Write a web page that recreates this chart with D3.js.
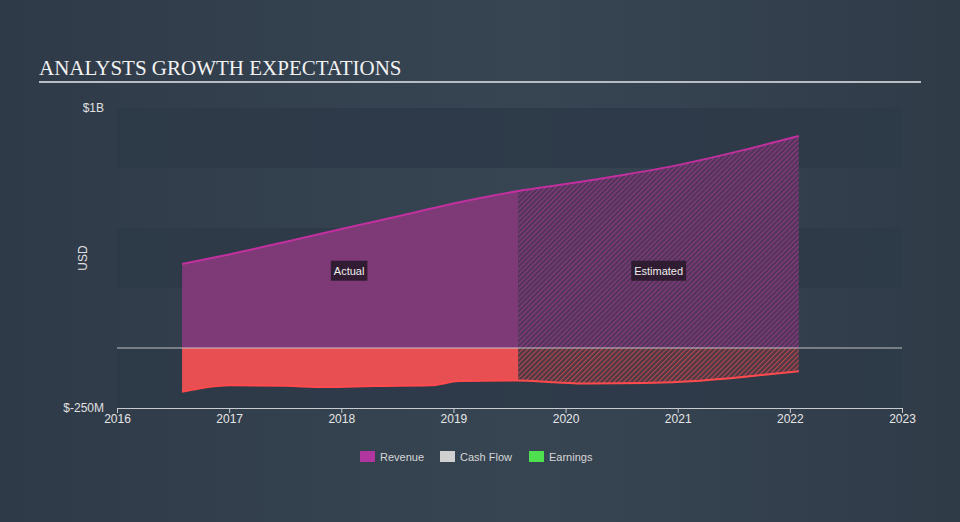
<!DOCTYPE html>
<html><head><meta charset="utf-8">
<script src="https://cdn.jsdelivr.net/npm/d3@7"></script>
<style>
html,body{margin:0;padding:0;background:#333f4d;}
svg{display:block;}
</style></head>
<body>
<svg id="chart" width="960" height="522"></svg>
<script>
const title = "ANALYSTS GROWTH EXPECTATIONS";
const yTickLabels = ["$1B", "$-250M"];
const yTickValues = [1.0, -0.25];
const xTickYears = [2016, 2017, 2018, 2019, 2020, 2021, 2022, 2023];
const splitYear = 2019.58;

// revenue, in billions USD
const revenueYears = [2016.58, 2017.0, 2017.5, 2018.0, 2018.5, 2019.0, 2019.58, 2020.0, 2020.5, 2021.0, 2021.5, 2022.08];
const revenueValues = [0.350, 0.390, 0.442, 0.496, 0.548, 0.602, 0.654, 0.683, 0.720, 0.762, 0.815, 0.883];

// earnings, in billions USD
const earningsYears = [2016.58, 2017.0, 2017.5, 2017.85, 2018.3, 2018.8, 2019.05, 2019.58, 2019.9, 2020.2, 2020.7, 2021.2, 2021.6, 2022.08];
const earningsValues = [-0.182, -0.155, -0.157, -0.163, -0.158, -0.155, -0.138, -0.135, -0.143, -0.148, -0.146, -0.136, -0.120, -0.097];

const legendItems = ["Revenue", "Cash Flow", "Earnings"];
const legendColors = ["#b2369f", "#d0d0d0", "#4fe04f"];

const svg = d3.select("#chart");
const W = 960, H = 522;
const defs = svg.append("defs");

const bg = defs.append("linearGradient").attr("id","bg").attr("x1","0").attr("x2","1").attr("y1","0").attr("y2","0");
bg.append("stop").attr("offset","0").attr("stop-color","#2f3a48");
bg.append("stop").attr("offset","0.55").attr("stop-color","#374553");
bg.append("stop").attr("offset","1").attr("stop-color","#303b48");
svg.append("rect").attr("width",W).attr("height",H).attr("fill","url(#bg)");

function hatch(id, base, stripe) {
  const p = defs.append("pattern").attr("id", id).attr("patternUnits","userSpaceOnUse")
    .attr("width", 3.5).attr("height", 3.5).attr("patternTransform","rotate(45)");
  p.append("rect").attr("width",3.5).attr("height",3.5).attr("fill",base);
  p.append("line").attr("x1",0).attr("y1",0).attr("x2",0).attr("y2",3.5)
    .attr("stroke",stripe).attr("stroke-width",2.2);
}
hatch("hatchRev", "#523558", "#8a3a84");
hatch("hatchEarn", "#4c3945", "#b8474c");

const x = d3.scaleLinear().domain([2016, 2023]).range([117, 902]);
const y = d3.scaleLinear().domain([-0.25, 1.0]).range([408, 108]);

// bands
const bandEdges = [1.0, 0.75, 0.5, 0.25, 0, -0.25];
for (let i = 0; i < bandEdges.length - 1; i += 2) {
  svg.append("rect").attr("x", x(2016)).attr("width", x(2023) - x(2016))
    .attr("y", y(bandEdges[i])).attr("height", y(bandEdges[i+1]) - y(bandEdges[i]))
    .attr("fill", "#2e3a48").attr("opacity", 0.9);
}

// title
svg.append("text").attr("x", 39).attr("y", 75).text(title)
  .attr("font-family","'Liberation Serif', 'Times New Roman', serif").attr("font-size", 21)
  .attr("fill", "#f2f2f2");
svg.append("line").attr("x1",39).attr("x2",921).attr("y1",82).attr("y2",82)
  .attr("stroke","#b9bdc2").attr("stroke-width",2);

const rev = revenueYears.map((t,i)=>({t, v: revenueValues[i]}));
const earn = earningsYears.map((t,i)=>({t, v: earningsValues[i]}));
const revA = rev.filter(d => d.t <= splitYear + 1e-6);
const revE = rev.filter(d => d.t >= splitYear - 1e-6);
const earnA = earn.filter(d => d.t <= splitYear + 1e-6);
const earnE = earn.filter(d => d.t >= splitYear - 1e-6);

const area = d3.area().x(d=>x(d.t)).y0(y(0)).y1(d=>y(d.v)).curve(d3.curveMonotoneX);
const line = d3.line().x(d=>x(d.t)).y(d=>y(d.v)).curve(d3.curveMonotoneX);

svg.append("path").datum(revA).attr("d", area).attr("fill", "#7d3a76");
svg.append("path").datum(revE).attr("d", area).attr("fill", "url(#hatchRev)");
svg.append("path").datum(earnA).attr("d", area).attr("fill", "#e84f52");
svg.append("path").datum(earnE).attr("d", area).attr("fill", "url(#hatchEarn)");

svg.append("path").datum(rev).attr("d", line).attr("fill","none").attr("stroke","#c2309f").attr("stroke-width",2);
svg.append("path").datum(earn).attr("d", line).attr("fill","none").attr("stroke","#ff4a4e").attr("stroke-width",2);

// zero line
svg.append("line").attr("x1", x(2016)).attr("x2", x(2023)).attr("y1", y(0)).attr("y2", y(0))
  .attr("stroke", "#d8d8d8").attr("stroke-width", 1.2).attr("opacity", 0.85);

// labels Actual / Estimated
function tag(text, cx, cy) {
  const g = svg.append("g");
  const t = g.append("text").attr("x", cx).attr("y", cy + 4).attr("text-anchor","middle")
    .attr("font-family","'Liberation Sans', Arial, sans-serif").attr("font-size", 11)
    .attr("fill","#eeeeee").text(text);
  const bb = t.node().getBBox();
  g.insert("rect","text").attr("x", bb.x - 3).attr("y", cy - 10).attr("width", bb.width + 6).attr("height", 20)
    .attr("fill", "#2a1a2c").attr("opacity", 0.9);
}
tag("Actual", x(2018.07), y(0.322));
tag("Estimated", x(2020.83), y(0.322));

// x axis
const xAxis = d3.axisBottom(x).tickValues(xTickYears).tickFormat(d3.format("d")).tickSize(5).tickSizeOuter(0);
const gx = svg.append("g").attr("transform", `translate(0,${y(-0.25)})`).call(xAxis);
gx.select(".domain").attr("stroke","#c8ccd0");
gx.selectAll(".tick line").attr("stroke","#c8ccd0");
gx.selectAll(".tick text").attr("fill","#e6e6e6").attr("font-size",12)
  .attr("font-family","'Liberation Sans', Arial, sans-serif").attr("dy","0.55em");

// y labels
svg.selectAll(".ylab").data(yTickValues).enter().append("text")
  .attr("x", 104).attr("y", d => y(d) + 4).attr("text-anchor","end")
  .attr("font-family","'Liberation Sans', Arial, sans-serif").attr("font-size", 12)
  .attr("fill","#e0e0e0").text((d,i)=>yTickLabels[i]);

svg.append("text").attr("transform", `translate(87,${y(0.375)}) rotate(-90)`).attr("text-anchor","middle")
  .attr("font-family","'Liberation Sans', Arial, sans-serif").attr("font-size", 12)
  .attr("fill","#e0e0e0").text("USD");

// legend
const legX = [360, 440, 529];
legendItems.forEach((name, i) => {
  svg.append("rect").attr("x", legX[i]).attr("y", 451).attr("width", 15).attr("height", 11).attr("fill", legendColors[i]);
  svg.append("text").attr("x", legX[i] + 20).attr("y", 460.5).text(name)
    .attr("font-family","'Liberation Sans', Arial, sans-serif").attr("font-size", 11)
    .attr("fill", "#d6d6d6");
});
</script>
</body></html>
